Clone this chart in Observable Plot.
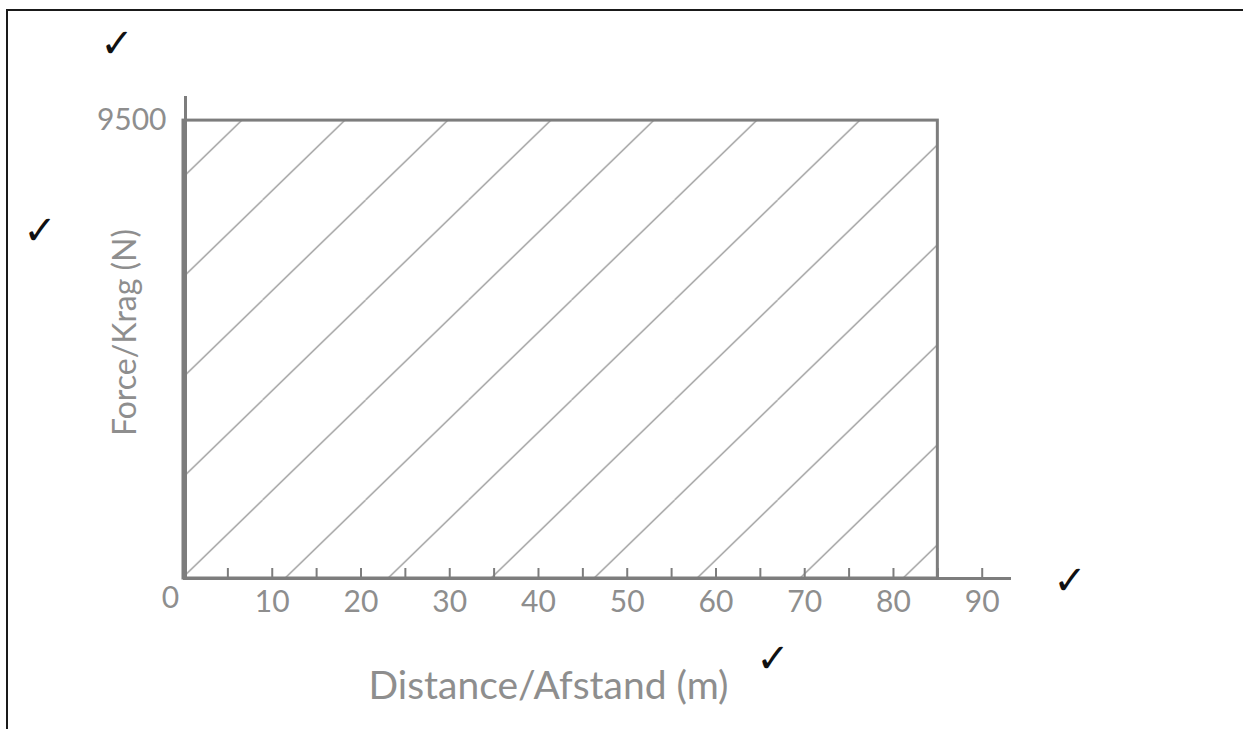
<!DOCTYPE html>
<html>
<head>
<meta charset="utf-8">
<script src="https://cdn.jsdelivr.net/npm/d3@7"></script>
<script src="https://cdn.jsdelivr.net/npm/@observablehq/plot@0.6"></script>
<style>
  html, body { margin: 0; padding: 0; background: #fff; }
  #wrap { position: relative; width: 1243px; height: 729px; overflow: hidden; }
  #frame { position: absolute; left: 6px; top: 9px; width: 1240px; height: 725px;
           border-top: 2px solid #1a1a1a; border-left: 2px solid #1a1a1a; pointer-events: none; }
  .tick-mark { position: absolute; font-family: "DejaVu Sans", sans-serif; font-size: 40px; font-weight: bold;
               color: #111; transform: translate(-50%, -50%); line-height: 1; }
</style>
</head>
<body>
<div id="wrap"><div id="frame"></div></div>
<script>
// ---- data ----
const distanceStart = [0];
const distanceEnd = [85];
const forceLevel = [9500];
const xTickLabels = [10, 20, 30, 40, 50, 60, 70, 80, 90];
const xMinorTicks = [5, 10, 15, 20, 25, 30, 35, 40, 45, 50, 55, 60, 65, 70, 75, 80, 85, 90];
const yTickLabels = [9500];
const originLabel = ["0"];
const xTitle = "Distance/Afstand (m)";
const yTitle = "Force/Krag (N)";

const workArea = distanceStart.map((d, i) => ({x1: d, x2: distanceEnd[i], force: forceLevel[i]}));

const axisColor = "#7d7d7d";
const textColor = "#8e8e8e";

const chart = Plot.plot({
  width: 1243,
  height: 729,
  marginLeft: 183,
  marginRight: 232,
  marginTop: 96,
  marginBottom: 151,
  style: {fontFamily: "Lato, sans-serif", color: textColor, background: "transparent", overflow: "visible"},
  x: {domain: [0, 93.3], axis: null},
  y: {domain: [0, 10000], axis: null},
  marks: [
    Plot.rect(workArea, {x1: "x1", x2: "x2", y1: 0, y2: "force", fill: "url(#hatch)", stroke: axisColor, strokeWidth: 3}),
    Plot.ruleY([0], {stroke: axisColor, strokeWidth: 3}),
    Plot.ruleX([0], {stroke: axisColor, strokeWidth: 3, dx: 2}),
    Plot.axisX(xMinorTicks, {tickSize: -10, tickFormat: () => "", stroke: axisColor, strokeWidth: 2, label: null}),
    Plot.axisX(xTickLabels, {tickSize: 0, tickPadding: 12, tickFormat: d => String(d), fontSize: 30, fill: textColor, label: null}),
    Plot.axisY(yTickLabels, {tickSize: 0, tickPadding: 17, tickFormat: d => String(d), fontSize: 30, fill: textColor, label: null}),
    Plot.text(originLabel, {x: 0, y: 0, text: d => d, dx: -13, dy: 8, lineAnchor: "top", fontSize: 30, fill: textColor}),
    Plot.text([xTitle], {frameAnchor: "bottom", text: d => d, textAnchor: "middle", lineAnchor: "middle", dx: -49, dy: 108, fontSize: 39, fill: textColor}),
    Plot.text([yTitle], {frameAnchor: "left", text: d => d, textAnchor: "middle", lineAnchor: "middle", rotate: -90, dx: -58, dy: -5, fontSize: 32, fill: textColor})
  ]
});

// hatch pattern for the area under the graph
const defs = d3.select(chart).insert("defs", ":first-child");
const pat = defs.append("pattern")
  .attr("id", "hatch")
  .attr("patternUnits", "userSpaceOnUse")
  .attr("x", 56.6).attr("y", 0)
  .attr("width", 103).attr("height", 100);
pat.append("rect").attr("width", 103).attr("height", 100).attr("fill", "white");
pat.append("path")
  .attr("d", "M0,100 L103,0 M-103,100 L0,0 M103,100 L206,0")
  .attr("stroke", "#9a9a9a").attr("stroke-width", 1.3).attr("fill", "none");

const wrap = document.getElementById("wrap");
wrap.insertBefore(chart, wrap.firstChild);
chart.style.position = "absolute";
chart.style.left = "0px";
chart.style.top = "0px";

// examiner's check marks
const checks = [[117, 43], [40, 230], [1070, 580], [773, 658]];
for (const [cx, cy] of checks) {
  const s = document.createElement("span");
  s.className = "tick-mark";
  s.textContent = "\u2713";
  s.style.left = cx + "px";
  s.style.top = cy + "px";
  wrap.appendChild(s);
}
</script>
</body>
</html>
